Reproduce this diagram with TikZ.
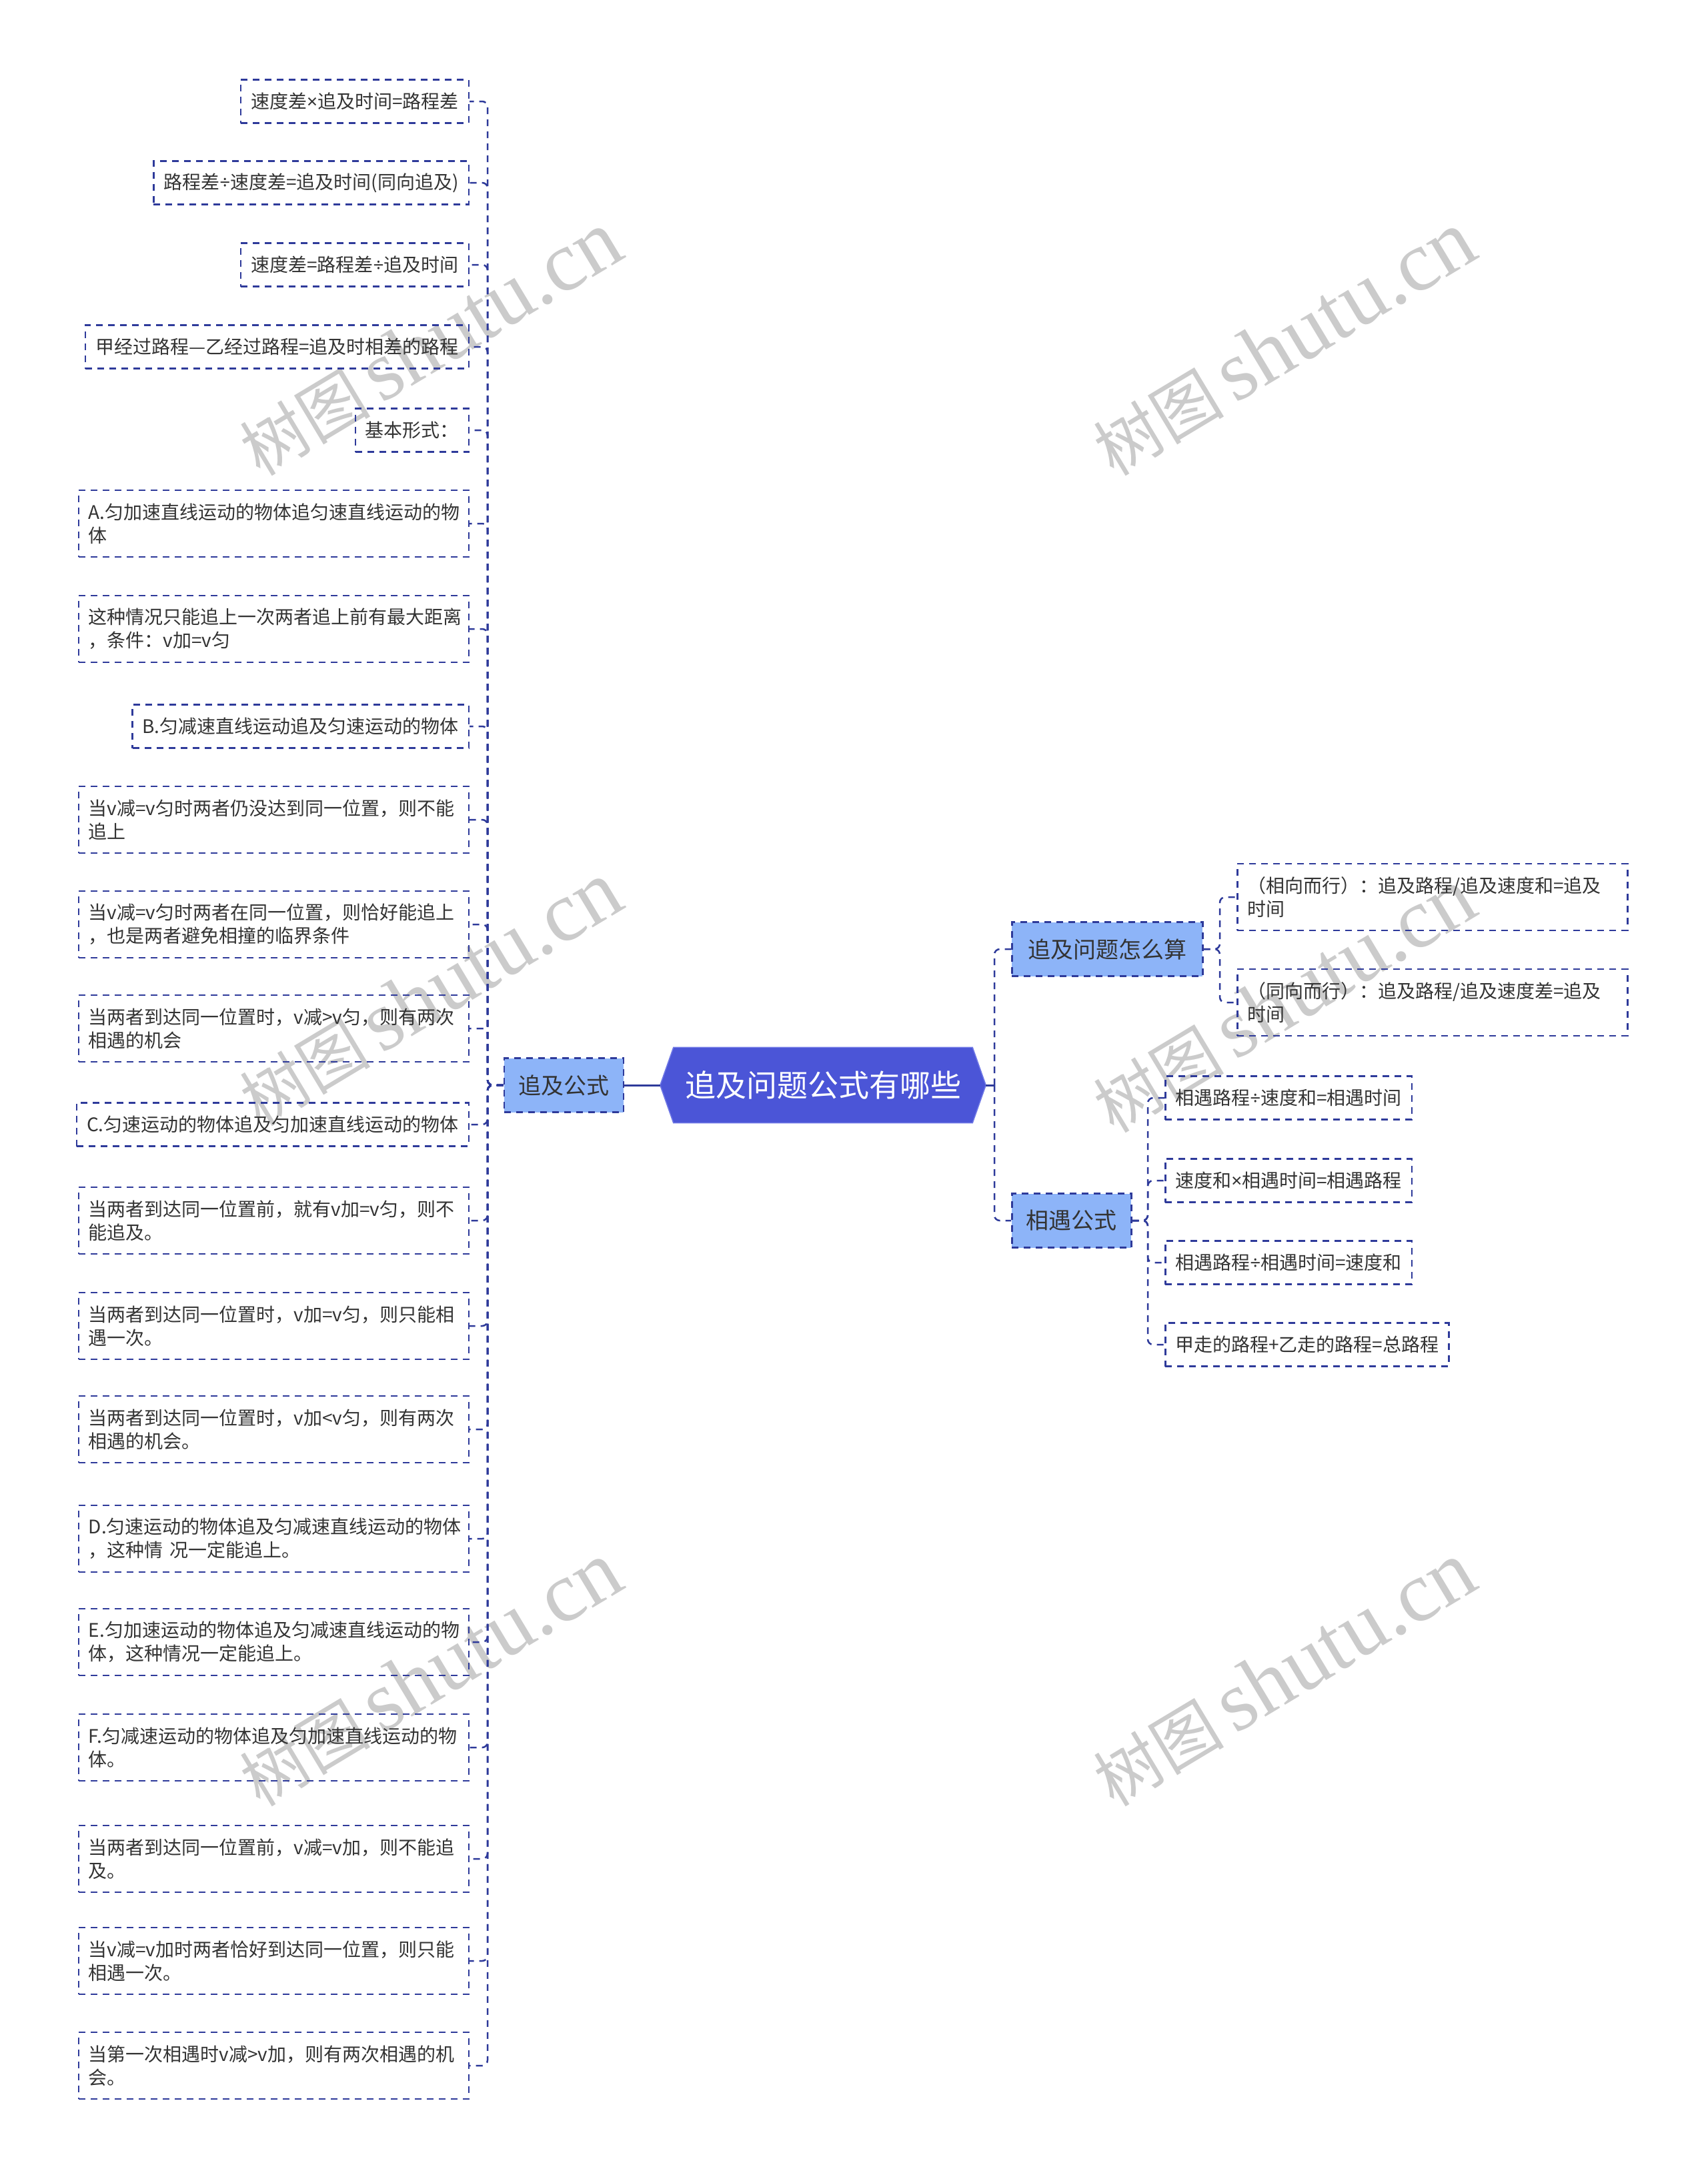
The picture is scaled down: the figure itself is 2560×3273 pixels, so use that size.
\documentclass[tikz,border=0pt]{standalone}
\usepackage{fontspec}
\setmainfont{Noto Sans CJK SC}
\newfontfamily\wmserif{Liberation Serif}
\newfontfamily\latinfont{Noto Sans}
\newcommand\mymul{{\latinfont ×}}
\newcommand\mydiv{{\latinfont ÷}}
\usetikzlibrary{backgrounds}
\definecolor{linec}{HTML}{2E3A9A}
\definecolor{lvlone}{HTML}{8DB4F8}
\definecolor{rootc}{HTML}{4B55D7}
\definecolor{rootedge}{HTML}{6F78E6}
\definecolor{txt}{HTML}{333333}
\definecolor{wmc}{HTML}{CBCBCB}
\begin{document}
\begin{tikzpicture}[x=1pt,y=-1pt,
  dsh/.style={line width=2.5pt, dash pattern=on 10pt off 8pt},
  leafbase/.style={draw=linec, dsh, text=txt, font=\fontsize{28}{35}\selectfont, inner xsep=15pt, inner ysep=4pt, align=left},
  leafS/.style={leafbase, minimum height=65pt},
  leafD/.style={leafbase, minimum height=100pt, text width=555pt},
  lvl/.style={draw=linec, dsh, fill=lvlone, text=txt, font=\fontsize{34}{40}\selectfont, inner xsep=18pt, minimum height=81pt},
  conn/.style={draw=linec, line width=2.5pt, dash pattern=on 10pt off 8pt, rounded corners=8pt},
  solidconn/.style={draw=linec, line width=3pt},
  wm/.style={text=wmc, rotate=31, inner sep=0pt}
]
\useasboundingbox (0,0) rectangle (2560,3273);

% watermarks
\foreach \i/\wx/\wy in {1/645/515, 2/1925/515, 3/645/1490, 4/1925/1500, 5/645/2510, 6/1925/2510}{
  \node[wm] (wm\i) at (\wx,\wy) {\fontsize{98}{100}\selectfont 树图\,{\wmserif\fontsize{128}{130}\selectfont shutu.cn}};
}

% root
\node[font=\fontsize{46}{52}\selectfont, text=white, minimum width=488pt, minimum height=113pt, inner sep=0pt] (root) at (1234,1627) {追及问题公式有哪些};
\begin{scope}[on background layer]
\fill[rootc, draw=rootedge, line width=1.5pt] (root.west) -- ([xshift=20pt]root.north west) -- ([xshift=-20pt]root.north east) -- (root.east) -- ([xshift=-20pt]root.south east) -- ([xshift=20pt]root.south west) -- cycle;
\end{scope}

% level one
\node[lvl, minimum width=179pt] (zjgs) at (845.5,1627) {追及公式};
\node[lvl, minimum width=286pt, anchor=west] (zjwt) at (1516,1423) {追及问题怎么算};
\node[lvl, minimum width=179pt, anchor=west] (xygs) at (1516,1830) {相遇公式};

% left leaves
\node[leafS, anchor=east] (L1) at (704,152) {速度差\mymul 追及时间=路程差};
\node[leafS, anchor=east] (L2) at (704,274) {路程差\mydiv 速度差=追及时间(同向追及)};
\node[leafS, anchor=east] (L3) at (704,397) {速度差=路程差\mydiv 追及时间};
\node[leafS, anchor=east] (L4) at (704,520) {甲经过路程—乙经过路程=追及时相差的路程};
\node[leafS, anchor=east] (L5) at (704,645) {基本形式：};
\node[leafD, anchor=east] (L6) at (704,785) {A.匀加速直线运动的物体追匀速直线运动的物\\体};
\node[leafD, anchor=east] (L7) at (704,943) {这种情况只能追上一次两者追上前有最大距离\\，条件：v加=v匀};
\node[leafS, anchor=east] (L8) at (704,1089) {B.匀减速直线运动追及匀速运动的物体};
\node[leafD, anchor=east] (L9) at (704,1229) {当v减=v匀时两者仍没达到同一位置，则不能\\追上};
\node[leafD, anchor=east] (L10) at (704,1386) {当v减=v匀时两者在同一位置，则恰好能追上\\，也是两者避免相撞的临界条件};
\node[leafD, anchor=east] (L11) at (704,1542) {当两者到达同一位置时，v减>v匀，则有两次\\相遇的机会};
\node[leafS, anchor=east] (L12) at (704,1686) {C.匀速运动的物体追及匀加速直线运动的物体};
\node[leafD, anchor=east] (L13) at (704,1830) {当两者到达同一位置前，就有v加=v匀，则不\\能追及。};
\node[leafD, anchor=east] (L14) at (704,1988) {当两者到达同一位置时，v加=v匀，则只能相\\遇一次。};
\node[leafD, anchor=east] (L15) at (704,2143) {当两者到达同一位置时，v加<v匀，则有两次\\相遇的机会。};
\node[leafD, anchor=east] (L16) at (704,2307) {D.匀速运动的物体追及匀减速直线运动的物体\\，这种情\ 况一定能追上。};
\node[leafD, anchor=east] (L17) at (704,2462) {E.匀加速运动的物体追及匀减速直线运动的物\\体，这种情况一定能追上。};
\node[leafD, anchor=east] (L18) at (704,2620) {F.匀减速运动的物体追及匀加速直线运动的物\\体。};
\node[leafD, anchor=east] (L19) at (704,2787) {当两者到达同一位置前，v减=v加，则不能追\\及。};
\node[leafD, anchor=east] (L20) at (704,2940) {当v减=v加时两者恰好到达同一位置，则只能\\相遇一次。};
\node[leafD, anchor=east] (L21) at (704,3097) {当第一次相遇时v减>v加，则有两次相遇的机\\会。};

% right leaves
\node[leafD, anchor=west] (R1a) at (1854,1345) {（相向而行）：追及路程/追及速度和=追及\\时间};
\node[leafD, anchor=west] (R1b) at (1854,1503) {（同向而行）：追及路程/追及速度差=追及\\时间};
\node[leafS, anchor=west] (R2a) at (1746,1646) {相遇路程\mydiv 速度和=相遇时间};
\node[leafS, anchor=west] (R2b) at (1746,1770) {速度和\mymul 相遇时间=相遇路程};
\node[leafS, anchor=west] (R2c) at (1746,1893) {相遇路程\mydiv 相遇时间=速度和};
\node[leafS, anchor=west] (R2d) at (1746,2016) {甲走的路程+乙走的路程=总路程};

% connectors
\draw[solidconn] (root.west) -- (zjgs.east);
\coordinate (ls) at (731,1627);
\foreach \n in {L1,L2,L3,L4,L5,L6,L7,L8,L9,L10,L11,L12,L13,L14,L15,L16,L17,L18,L19,L20,L21}{
  \draw[conn] (zjgs.west) -- (ls) |- (\n.east);
}
\coordinate (rs) at (1491,1627);
\draw[solidconn] (root.east) -- (rs);
\draw[conn] (rs) |- (zjwt.west);
\draw[conn] (rs) |- (xygs.west);
\coordinate (rs1) at (1829,1423);
\draw[conn] (zjwt.east) -- (rs1) |- (R1a.west);
\draw[conn] (zjwt.east) -- (rs1) |- (R1b.west);
\coordinate (rs2) at (1721,1830);
\foreach \n in {R2a,R2b,R2c,R2d}{
  \draw[conn] (xygs.east) -- (rs2) |- (\n.west);
}
\end{tikzpicture}
\end{document}
